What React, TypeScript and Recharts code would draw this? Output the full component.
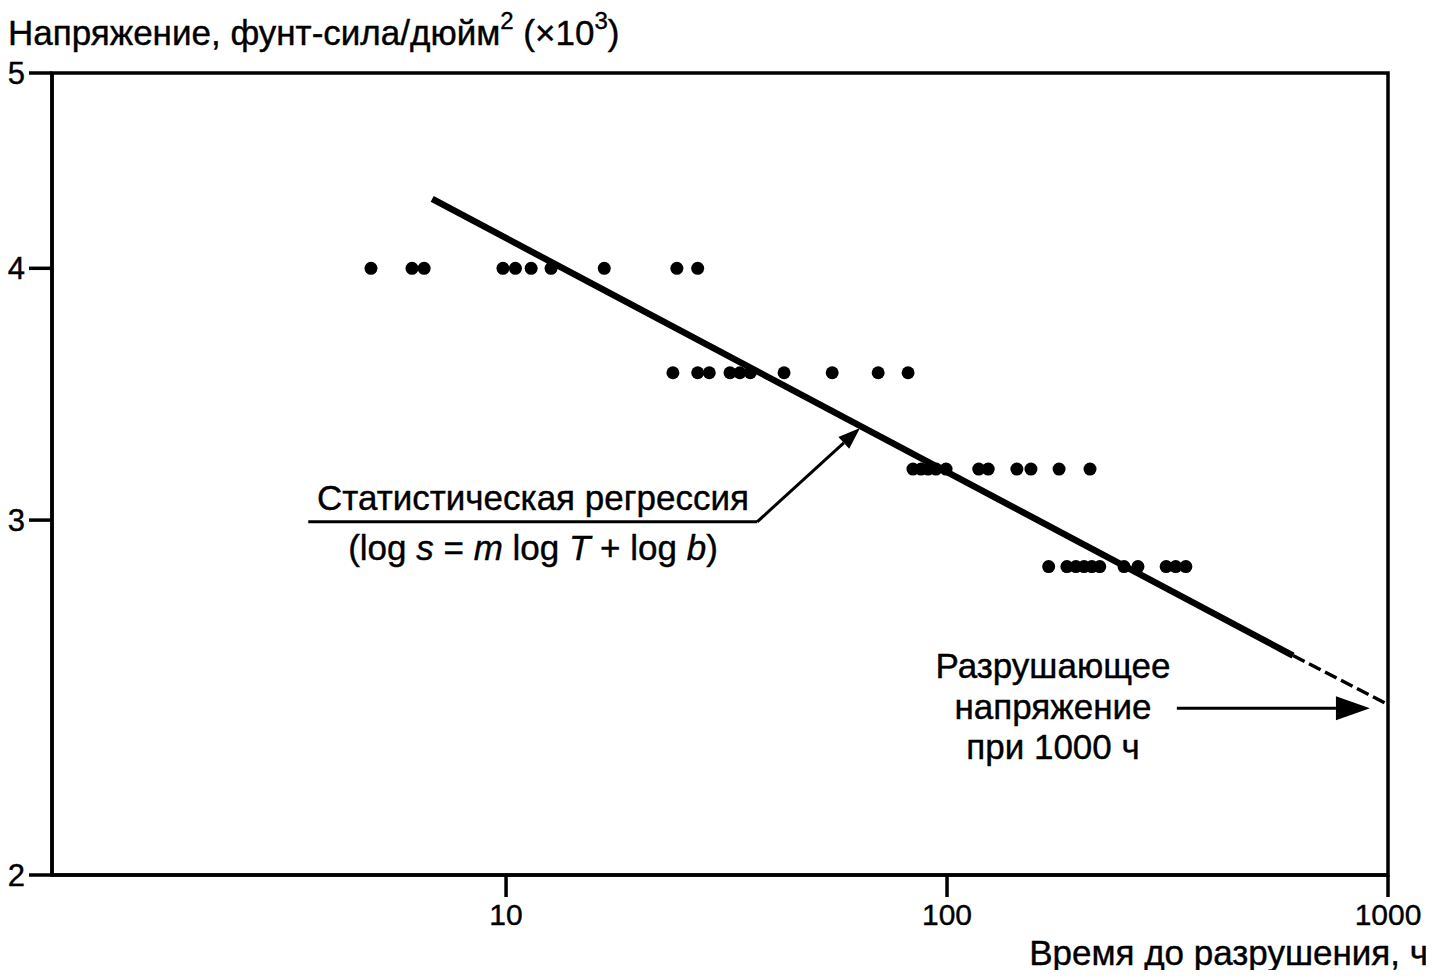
import { ComposedChart, Scatter, Line, XAxis, YAxis, ReferenceArea, ReferenceLine } from "recharts"

// время до разрушения (ч) и напряжение (×10^3 фунт-сила/дюйм²)
const row40 = [4.94, 6.12, 6.52, 9.84, 10.5, 11.4, 12.65, 16.7, 24.4, 27.2]
const row36 = [23.9, 27.2, 28.9, 32.2, 33.9, 35.8, 42.7, 54.9, 69.8, 81.6]
const row32 = [83.7, 87.3, 90.6, 94.4, 99.5, 118, 124, 144, 155, 179.5, 211]
const row285 = [170, 187, 196, 204.5, 213, 222, 252, 271, 314, 330, 348]

const stressLevels = [4.0, 3.55, 3.18, 2.845]

// регрессия: сплошная часть и экстраполяция до 1000 ч
const fitT = [6.8, 609, 1000]
const fitS = [4.33, 2.57, 2.43]

const xTicks = [10, 100, 1000]
const yTicks = [2, 3, 4, 5]

const points = [row40, row36, row32, row285].flatMap((row, i) =>
  row.map((t) => ({ t, s: stressLevels[i] }))
)
const fitSolid = [
  { t: fitT[0], s: fitS[0] },
  { t: fitT[1], s: fitS[1] },
]
const fitDashed = [
  { t: fitT[1], s: fitS[1] },
  { t: fitT[2], s: fitS[2] },
]

const font = "'Liberation Sans', Arial, sans-serif"

const Dot = (p: any) => <circle cx={p.cx} cy={p.cy} r={6.5} fill="#000" />

// линия со стрелкой на конце
const arrow = (head: number, half: number) => (p: any) => {
  const { x1, y1, x2, y2 } = p
  const a = Math.atan2(y2 - y1, x2 - x1)
  const bx = x2 - head * Math.cos(a)
  const by = y2 - head * Math.sin(a)
  const nx = -Math.sin(a) * half
  const ny = Math.cos(a) * half
  return (
    <g>
      <line x1={x1} y1={y1} x2={bx} y2={by} stroke="#000" strokeWidth={3} />
      <polygon points={`${x2},${y2} ${bx + nx},${by + ny} ${bx - nx},${by - ny}`} fill="#000" />
    </g>
  )
}

export default function App() {
  return (
    <div style={{ position: "relative", width: 1426, height: 962, fontFamily: font }}>
      <ComposedChart
        width={1426}
        height={962}
        margin={{ top: 65, right: 46, left: 0, bottom: 55 }}
      >
        <XAxis
          dataKey="t"
          type="number"
          scale="log"
          domain={[0.934, 1000]}
          allowDataOverflow
          ticks={xTicks}
          height={40}
          tickSize={22}
          tickMargin={7}
          axisLine={{ stroke: "#000", strokeWidth: 3.5 }}
          tickLine={{ stroke: "#000", strokeWidth: 3.5 }}
          tick={{ fill: "#000", fontSize: 30, fontFamily: font, stroke: "#000", strokeWidth: 0.4 }}
        />
        <YAxis
          dataKey="s"
          type="number"
          scale="log"
          domain={[2, 5]}
          allowDataOverflow
          ticks={yTicks}
          width={44}
          tickSize={23}
          tickMargin={4}
          axisLine={{ stroke: "#000", strokeWidth: 3.5 }}
          tickLine={{ stroke: "#000", strokeWidth: 3.5 }}
          tick={{ fill: "#000", fontSize: 31, fontFamily: font, stroke: "#000", strokeWidth: 0.4 }}
        />
        <ReferenceArea x1={0.934} x2={1000} y1={2} y2={5} fill="none" stroke="#000" strokeWidth={3.5} ifOverflow="visible" />
        <Scatter data={points} shape={Dot} isAnimationActive={false} />
        <Line data={fitSolid} dataKey="s" stroke="#000" strokeWidth={6.5} dot={false} activeDot={false} isAnimationActive={false} />
        <Line data={fitDashed} dataKey="s" stroke="#000" strokeWidth={3.5} strokeDasharray="13 5" dot={false} activeDot={false} isAnimationActive={false} />
        <ReferenceLine segment={[{ x: 3.56, y: 2.994 }, { x: 37.1, y: 2.994 }]} stroke="#000" strokeWidth={3} ifOverflow="visible" />
        <ReferenceLine segment={[{ x: 37.1, y: 2.994 }, { x: 63.5, y: 3.333 }]} ifOverflow="visible" shape={arrow(22, 8)} />
        <ReferenceLine segment={[{ x: 332, y: 2.42 }, { x: 910, y: 2.42 }]} ifOverflow="visible" shape={arrow(34, 12)} />
      </ComposedChart>
      <svg width={1426} height={962} style={{ position: "absolute", left: 0, top: 0, pointerEvents: "none", overflow: "visible" }}>
        <g fontFamily={font} fill="#000" stroke="#000" strokeWidth={0.4}>
          <text x={0} y={37} fontSize={35}>
            Напряжение, фунт-сила/дюйм
            <tspan fontSize={24} dy={-16}>2</tspan>
            <tspan dy={16}> (×10</tspan>
            <tspan fontSize={24} dy={-16}>3</tspan>
            <tspan dy={16}>)</tspan>
          </text>
          <text x={1420} y={957} fontSize={35} textAnchor="end">Время до разрушения, ч</text>
          <text x={525} y={502} fontSize={35} textAnchor="middle">Статистическая регрессия</text>
          <text x={525} y={552} fontSize={35} textAnchor="middle">
            (log<tspan fontStyle="italic"> s </tspan> = <tspan fontStyle="italic">m</tspan> log <tspan fontStyle="italic">T</tspan> + log <tspan fontStyle="italic">b</tspan>)
          </text>
          <text x={1045} y={670} fontSize={35} textAnchor="middle">Разрушающее</text>
          <text x={1045} y={711} fontSize={35} textAnchor="middle">напряжение</text>
          <text x={1045} y={751} fontSize={35} textAnchor="middle">при 1000 ч</text>
        </g>
      </svg>
    </div>
  )
}
